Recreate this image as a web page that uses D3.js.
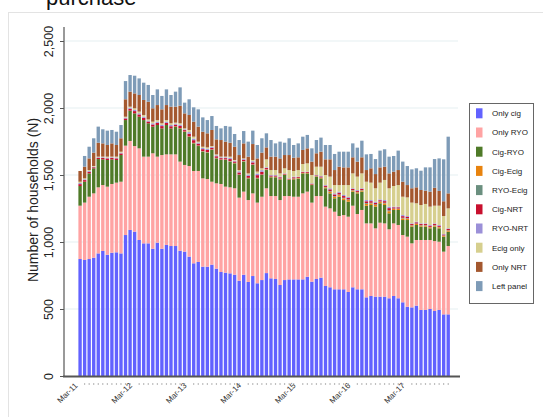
<!DOCTYPE html>
<html><head><meta charset="utf-8">
<script src="https://cdn.jsdelivr.net/npm/d3@7"></script>
<style>
body{margin:0;background:#fff;}
svg{display:block;font-family:"Liberation Sans",Arial,Helvetica,sans-serif;}
</style>
</head><body>
<svg id="c" width="543" height="417"></svg>
<script>
const seriesNames = ["Only cig","Only RYO","Cig-RYO","Cig-Ecig","RYO-Ecig","Cig-NRT","RYO-NRT","Ecig only","Only NRT","Left panel"];
const seriesColors = ["#6262ff","#ffa3a3","#4f7a28","#e8830e","#6b8f7f","#c8102e","#9b90d8","#d6cf8e","#a4582f","#7e9bb7"];
const tickLabels = ["Mar-11","Mar-12","Mar-13","Mar-14","Mar-15","Mar-16","Mar-17"];
const yTicks = [0,500,1000,1500,2000,2500];

const onlyCig = [873,866,873,883,915,933,905,920,923,915,
1052,1090,1077,1015,990,990,950,995,950,978,
970,970,935,928,891,841,851,816,816,831,
801,776,771,766,756,711,756,702,746,692,
716,768,729,724,679,716,721,721,721,721,
741,704,724,734,672,662,647,647,647,627,
662,647,647,587,597,592,592,592,580,597,
580,550,517,512,525,493,493,500,485,493,
460,460];
const onlyRYO = [398,428,465,480,493,492,508,513,520,535,
667,664,639,684,647,647,712,642,699,676,
684,684,665,647,676,689,679,659,654,619,
637,657,642,642,645,620,620,611,617,602,
622,633,614,619,634,627,622,617,617,642,
635,590,619,609,592,589,579,547,554,562,
609,562,592,552,542,510,552,547,515,542,
547,502,523,478,490,522,522,515,522,509,
468,510];
const cigRYO = [147,156,174,187,211,192,199,184,169,199,
191,226,244,236,273,249,199,236,199,219,
194,207,248,248,219,206,186,199,197,237,
186,179,199,192,186,169,224,162,212,181,
162,136,140,140,155,157,120,130,135,149,
136,131,145,132,137,112,100,144,112,112,
105,154,137,132,137,162,145,137,119,100,
112,112,124,125,112,100,100,87,108,100,
112,107];
const cigEcig = [0,0,0,0,0,0,0,0,0,0,
0,0,0,0,0,0,0,0,0,0,
0,2,2,2,2,2,2,2,2,2,
2,2,2,2,2,2,2,2,2,2,
2,4,3,3,4,3,3,5,4,3,
3,3,3,5,7,12,12,12,12,12,
8,8,8,14,12,12,10,12,16,8,
8,12,10,8,8,8,8,8,8,8,
7,8];
const ryoEcig = [0,0,0,0,0,0,0,0,0,0,
0,0,0,0,0,0,0,0,0,0,
0,0,0,0,0,2,2,2,2,2,
2,2,2,2,2,2,2,2,2,2,
2,2,2,2,2,1,1,2,2,1,
1,1,1,2,3,5,5,5,5,5,
3,3,3,6,5,5,4,5,7,3,
3,5,4,3,3,3,3,3,3,3,
2,3];
const cigNRT = [14,12,12,8,8,10,12,10,12,12,
12,14,17,17,17,13,16,16,17,16,
16,13,16,10,20,20,14,15,16,12,
12,10,10,15,10,15,10,15,15,20,
20,9,8,8,9,5,5,8,6,6,
6,6,5,7,9,13,12,13,13,12,
9,9,9,13,12,12,9,12,16,9,
9,12,10,8,9,8,8,9,8,9,
7,9];
const ryoNRT = [8,6,6,4,5,5,6,5,6,6,
6,8,9,9,9,7,9,9,9,9,
9,7,9,6,12,12,8,9,9,7,
7,6,6,9,6,9,6,9,9,12,
12,5,4,4,5,3,3,5,3,3,
3,3,3,4,5,8,8,8,8,8,
5,5,5,9,8,8,6,8,11,5,
5,8,6,5,5,5,5,5,5,5,
4,5];
const ecigOnly = [10,7,7,5,5,5,7,5,7,7,
7,8,12,12,12,9,12,12,12,12,
13,8,11,7,16,14,7,9,10,6,
7,5,5,9,5,9,4,9,9,14,
14,60,37,37,24,38,62,42,49,57,
62,62,62,69,75,87,62,49,74,87,
111,100,111,137,130,100,125,150,137,154,
161,137,139,155,137,137,145,137,132,144,
134,149];
const onlyNRT = [80,87,87,100,104,99,87,99,87,100,
130,112,111,124,112,132,100,112,104,112,
124,119,131,112,112,112,112,112,105,120,
112,124,112,104,99,112,112,125,119,99,
117,89,100,100,112,99,112,99,95,105,
112,100,100,112,117,129,112,137,132,132,
120,112,120,87,107,106,114,99,111,107,
112,112,92,107,119,112,99,112,134,110,
110,112];
const leftPanel = [0,80,87,107,120,105,107,100,99,99,
136,124,132,124,129,125,99,117,100,117,
87,112,137,80,117,107,129,107,99,104,
100,87,117,120,95,112,92,112,100,100,
107,105,124,99,125,92,125,95,104,99,
100,99,99,105,107,107,120,112,117,117,
104,104,124,117,107,112,125,130,125,117,
145,150,142,141,142,144,174,181,214,243,
313,423];

const seriesValues = [onlyCig,onlyRYO,cigRYO,cigEcig,ryoEcig,cigNRT,ryoNRT,ecigOnly,onlyNRT,leftPanel];
const fmt = d3.timeFormat("%b-%y");
const months = d3.timeMonth.range(new Date(2011,2,1), new Date(2018,0,1)).map(fmt);

const rows = months.map((m,i)=>{
  const r = {month:m};
  seriesNames.forEach((s,k)=>{ r[s] = seriesValues[k][i]; });
  return r;
});

const svg = d3.select("#c");

// outer frame and clipped title
svg.append("rect").attr("x",8.5).attr("y",12.5).attr("width",600).attr("height",500)
  .attr("fill","none").attr("stroke","#e3e3e3");
svg.append("text").attr("x",46).attr("y",5).attr("font-size",22).attr("fill","#111").text("purchase");

const x = d3.scaleBand().domain(months).range([78.4,449.9]).paddingInner(0.26).paddingOuter(0);
const y = d3.scaleLinear().domain([0,2500]).range([376,41]);

// gridlines
svg.append("g").selectAll("line").data(yTicks.filter(d=>d>0)).join("line")
  .attr("x1",65).attr("x2",458).attr("y1",d=>y(d)).attr("y2",d=>y(d))
  .attr("stroke","#e5f0f1").attr("stroke-width",1.2);

// stacked bars
const stack = d3.stack().keys(seriesNames);
const layers = stack(rows);
svg.append("g").selectAll("g").data(layers).join("g")
  .attr("fill",(d,i)=>seriesColors[i])
  .selectAll("rect").data(d=>d.filter(p=>p[1]>p[0])).join("rect")
  .attr("x",d=>x(d.data.month)).attr("width",x.bandwidth())
  .attr("y",d=>y(d[1])).attr("height",d=>y(d[0])-y(d[1]));

// y axis
const yAxis = svg.append("g").attr("transform","translate(64,0)")
  .call(d3.axisLeft(y).tickValues(yTicks).tickSize(4).tickFormat(d3.format(",")));
yAxis.select(".domain").remove();
yAxis.selectAll(".tick line").attr("stroke","#555");
yAxis.selectAll(".tick text").attr("transform","rotate(-90)").attr("x",0).attr("y",-11)
  .attr("dy",0).attr("text-anchor","middle").attr("font-size",12.5).attr("fill","#222")
  .attr("font-family","'Liberation Sans',Arial,sans-serif");
svg.append("line").attr("x1",64).attr("x2",64).attr("y1",27).attr("y2",376).attr("stroke","#555").attr("stroke-width",1.2);

svg.append("text").attr("transform","translate(38,200) rotate(-90)").attr("text-anchor","middle")
  .attr("font-size",14).attr("fill","#222").text("Number of households (N)");

// x axis
svg.append("line").attr("x1",63).attr("x2",460).attr("y1",376.5).attr("y2",376.5).attr("stroke","#555").attr("stroke-width",1.8);
const labelled = months.filter(m=>tickLabels.includes(m));
svg.append("g").selectAll("circle").data(months.filter(m=>!tickLabels.includes(m))).join("circle")
  .attr("cx",d=>x(d)+x.bandwidth()/2).attr("cy",384).attr("r",0.7).attr("fill","#999");
svg.append("g").selectAll("text").data(labelled).join("text")
  .attr("transform",d=>`translate(${x(d)+x.bandwidth()/2-2},386) rotate(-45)`)
  .attr("text-anchor","end").attr("font-size",8).attr("fill","#333").text(d=>d);

// legend
const lg = svg.append("g");
lg.append("rect").attr("x",469.5).attr("y",103.5).attr("width",64).attr("height",200)
  .attr("fill","#fff").attr("stroke","#666");
const li = lg.selectAll("g").data(seriesNames).join("g")
  .attr("transform",(d,i)=>`translate(0,${113.3+i*19.2})`);
li.append("rect").attr("x",476).attr("y",-5).attr("width",6.5).attr("height",10).attr("fill",(d,i)=>seriesColors[i]);
li.append("text").attr("x",492).attr("y",0).attr("dy","0.35em").attr("font-size",8).attr("fill","#222").text(d=>d);
</script>
</body></html>
